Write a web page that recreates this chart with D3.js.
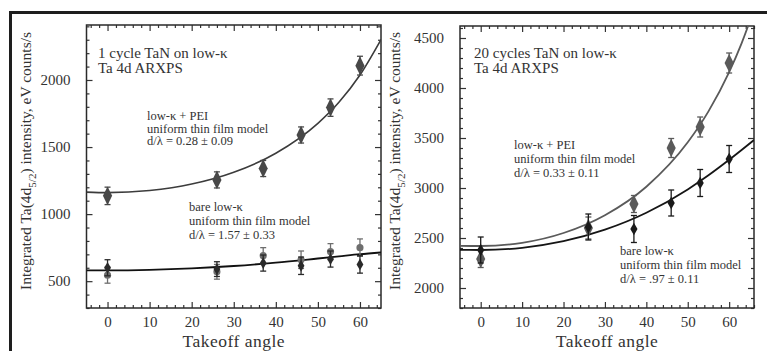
<!DOCTYPE html>
<html><head><meta charset="utf-8">
<script src="https://cdn.jsdelivr.net/npm/d3@7/dist/d3.min.js"></script>
<style>
html,body{margin:0;padding:0;background:#fff;}
svg{display:block;}
text{font-family:"Liberation Serif","DejaVu Serif",serif;fill:#333;}
</style></head>
<body>
<svg id="chart" width="767" height="351"></svg>
<script>
// ---------- data ----------
const angles = [0, 26, 37, 46, 53, 60];
const xTicks = [0, 10, 20, 30, 40, 50, 60];

// left panel: 1 cycle TaN
const leftYTicks = [500, 1000, 1500, 2000];
const leftPEI = [1136, 1255, 1340, 1590, 1794, 2107];
const leftPEIErr = [65, 60, 60, 60, 65, 70];
const leftBareA = [545, 570, 690, 660, 720, 750];   // grey circles
const leftBareB = [600, 590, 635, 615, 665, 625];   // dark diamonds
const leftBareErr = [60, 55, 60, 65, 60, 65];
const fitAnglesL = [-5, 0, 10, 20, 30, 40, 50, 55, 60, 65];
const leftPEIFit = [1164, 1160, 1176, 1224, 1312, 1454, 1677, 1834, 2037, 2301];
const leftBareFit = [580, 580, 584, 595, 613, 638, 669, 685, 701, 714];

// right panel: 20 cycles TaN
const rightYTicks = [2000, 2500, 3000, 3500, 4000, 4500];
const rightPEI = [2290, 2600, 2840, 3400, 3610, 4250];
const rightPEIErr = [85, 110, 85, 95, 100, 100];
const rightBare = [2380, 2610, 2590, 2850, 3050, 3290];
const rightBareErr = [130, 130, 135, 130, 135, 135];
const fitAnglesR = [-5, 0, 10, 20, 30, 40, 50, 55, 60, 63, 66];
const rightPEIFit = [2422, 2420, 2452, 2550, 2728, 3013, 3457, 3766, 4159, 4447, 4785];
const rightBareFit = [2381, 2380, 2402, 2468, 2583, 2752, 2986, 3127, 3282, 3380, 3480];

// ---------- drawing ----------
const svg = d3.select("#chart");

// outer frame (top and left thick lines)
svg.append("line").attr("x1", 9).attr("x2", 767).attr("y1", 12.5).attr("y2", 12.5)
  .attr("stroke", "#1e1e1e").attr("stroke-width", 3);
svg.append("line").attr("x1", 10.5).attr("x2", 10.5).attr("y1", 11).attr("y2", 351)
  .attr("stroke", "#1e1e1e").attr("stroke-width", 3);

function panel(cfg) {
  const g = svg.append("g");
  const x = d3.scaleLinear().domain(cfg.xDomain).range([cfg.left, cfg.right]);
  const y = d3.scaleLinear().domain(cfg.yDomain).range([cfg.bottom, cfg.top]);
  const clipId = "clip" + cfg.id;
  svg.append("clipPath").attr("id", clipId).append("rect")
    .attr("x", cfg.left).attr("y", cfg.top).attr("width", cfg.right - cfg.left).attr("height", cfg.bottom - cfg.top);

  // minor ticks
  const xMinor = d3.range(-4, cfg.xDomain[1] + 0.01, 2).filter(v => v % 10 !== 0);
  const yMinor = d3.range(Math.ceil(cfg.yDomain[0] / 100) * 100, cfg.yDomain[1], 100).filter(v => v % 500 !== 0);
  const tickCol = "#333";

  const axB = d3.axisBottom(x).tickValues(xTicks).tickSizeInner(-6).tickSizeOuter(0).tickPadding(8).tickFormat(d3.format("d"));
  const axBm = d3.axisBottom(x).tickValues(xMinor).tickSizeInner(-3).tickSizeOuter(0).tickFormat("");
  const axT = d3.axisTop(x).tickValues(xTicks).tickSizeInner(-6).tickSizeOuter(0).tickFormat("");
  const axTm = d3.axisTop(x).tickValues(xMinor).tickSizeInner(-3).tickSizeOuter(0).tickFormat("");
  const axL = d3.axisLeft(y).tickValues(cfg.yTicks).tickSizeInner(-6).tickSizeOuter(0).tickPadding(16).tickFormat(d3.format("d"));
  const axLm = d3.axisLeft(y).tickValues(yMinor).tickSizeInner(-3).tickSizeOuter(0).tickFormat("");
  const axR = d3.axisRight(y).tickValues(cfg.yTicks).tickSizeInner(-6).tickSizeOuter(0).tickFormat("");
  const axRm = d3.axisRight(y).tickValues(yMinor).tickSizeInner(-3).tickSizeOuter(0).tickFormat("");

  const add = (ax, tr) => {
    const a = g.append("g").attr("transform", tr).call(ax);
    a.select(".domain").remove();
    a.selectAll("line").attr("stroke", tickCol).attr("stroke-width", 1.2);
    a.selectAll("text").attr("fill", "#333").style("font-size", "15px").style("font-family", '"Liberation Serif",serif');
    return a;
  };
  add(axB, `translate(0,${cfg.bottom})`);
  add(axBm, `translate(0,${cfg.bottom})`);
  add(axT, `translate(0,${cfg.top})`);
  add(axTm, `translate(0,${cfg.top})`);
  add(axL, `translate(${cfg.left},0)`);
  add(axLm, `translate(${cfg.left},0)`);
  add(axR, `translate(${cfg.right},0)`);
  add(axRm, `translate(${cfg.right},0)`);

  g.append("rect").attr("x", cfg.left).attr("y", cfg.top)
    .attr("width", cfg.right - cfg.left).attr("height", cfg.bottom - cfg.top)
    .attr("fill", "none").attr("stroke", "#2a2a2a").attr("stroke-width", 1.5);

  // axis titles
  g.append("text").attr("x", (cfg.left + cfg.right) / 2).attr("y", 346.5)
    .attr("text-anchor", "middle").style("font-size", "17.5px").style("letter-spacing", "0.5px").text("Takeoff angle");
  const yt = g.append("text").attr("transform", `translate(${cfg.yTitleX},${cfg.yTitleY}) rotate(-90)`)
    .attr("text-anchor", "middle").style("font-size", "15.5px");
  yt.append("tspan").text("Integrated Ta(4d");
  yt.append("tspan").attr("dy", 5).style("font-size", "11px").text("5/2");
  yt.append("tspan").attr("dy", -5).text(") intensity, eV counts/s");

  const plot = g.append("g").attr("clip-path", `url(#${clipId})`);

  // fit lines
  const line = d3.line().curve(d3.curveMonotoneX).x(d => x(d[0])).y(d => y(d[1]));
  cfg.fits.forEach(f => {
    plot.append("path").datum(f.xs.map((a, i) => [a, f.vals[i]]))
      .attr("d", line).attr("fill", "none").attr("stroke", f.color).attr("stroke-width", f.width);
  });

  // series
  const diamond = d3.symbol().type(d3.symbolDiamond);
  const circle = d3.symbol().type(d3.symbolCircle);
  cfg.series.forEach(s => {
    const sg = g.append("g");
    angles.forEach((a, i) => {
      const cx = x(a), v = s.vals[i], e = s.err[i];
      sg.append("line").attr("x1", cx).attr("x2", cx).attr("y1", y(v - e)).attr("y2", y(v + e))
        .attr("stroke", s.color).attr("stroke-width", 1.3);
      [v - e, v + e].forEach(c => sg.append("line").attr("x1", cx - 3).attr("x2", cx + 3)
        .attr("y1", y(c)).attr("y2", y(c)).attr("stroke", s.color).attr("stroke-width", 1.3));
      sg.append("path").attr("d", (s.shape === "circle" ? circle : diamond).size(s.size)())
        .attr("transform", `translate(${cx},${y(v)}) scale(${s.sx || 1},1)`).attr("fill", s.color);
    });
  });

  // annotations
  cfg.notes.forEach(n => {
    const t = g.append("text").attr("x", n.x).attr("y", n.y).style("font-size", n.size + "px").attr("fill", "#3a3a3a");
    n.lines.forEach((l, i) => t.append("tspan").attr("x", n.x).attr("dy", i === 0 ? 0 : n.lh).text(l));
  });
}

panel({
  id: "L", left: 86.5, right: 381, top: 25, bottom: 308,
  xDomain: [-5, 65], yDomain: [300, 2410], yTicks: leftYTicks,
  yTitleX: 31, yTitleY: 161,
  fits: [
    { xs: fitAnglesL, vals: leftPEIFit, color: "#3c3c3c", width: 1.6 },
    { xs: fitAnglesL, vals: leftBareFit, color: "#111", width: 1.8 }
  ],
  series: [
    { vals: leftBareA, err: leftBareErr, color: "#6e6e6e", shape: "circle", size: 40 },
    { vals: leftBareB, err: leftBareErr, color: "#2a2a2a", shape: "diamond", size: 40 },
    { vals: leftPEI, err: leftPEIErr, color: "#484848", shape: "diamond", size: 100, sx: 0.85 }
  ],
  notes: [
    { x: 98, y: 58, size: 15, lh: 15, lines: ["1 cycle TaN on low-κ", "Ta 4d ARXPS"] },
    { x: 147, y: 120, size: 12.5, lh: 12.5, lines: ["low-κ + PEI", "uniform thin film model", "d/λ = 0.28 ± 0.09"] },
    { x: 189, y: 211, size: 12.5, lh: 14, lines: ["bare low-κ", "uniform thin film model", "d/λ = 1.57 ± 0.33"] }
  ]
});

panel({
  id: "R", left: 460, right: 754, top: 26, bottom: 308,
  xDomain: [-5, 66], yDomain: [1800, 4620], yTicks: rightYTicks,
  yTitleX: 400, yTitleY: 161,
  fits: [
    { xs: fitAnglesR, vals: rightPEIFit, color: "#5a5a5a", width: 1.8 },
    { xs: fitAnglesR, vals: rightBareFit, color: "#151515", width: 1.8 }
  ],
  series: [
    { vals: rightPEI, err: rightPEIErr, color: "#5a5a5a", shape: "diamond", size: 100, sx: 0.85 },
    { vals: rightBare, err: rightBareErr, color: "#1a1a1a", shape: "diamond", size: 45 }
  ],
  notes: [
    { x: 474, y: 58, size: 15, lh: 15, lines: ["20 cycles TaN on low-κ", "Ta 4d ARXPS"] },
    { x: 514, y: 149, size: 12.5, lh: 14, lines: ["low-κ + PEI", "uniform thin film model", "d/λ = 0.33 ± 0.11"] },
    { x: 620, y: 255, size: 12.5, lh: 14, lines: ["bare low-κ", "uniform thin film model", "d/λ = .97 ± 0.11"] }
  ]
});
</script>
</body></html>
